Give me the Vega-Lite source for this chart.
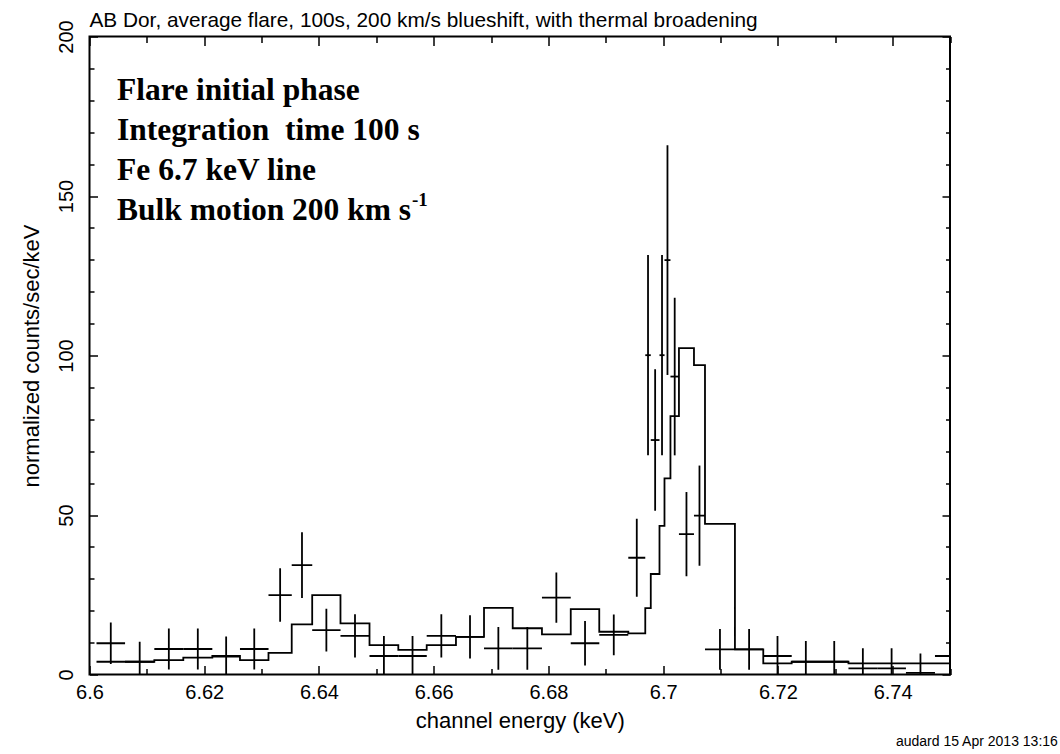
{
  "$schema": "https://vega.github.io/schema/vega-lite/v6.json",
  "width": 860.5,
  "height": 638,
  "autosize": "none",
  "padding": {"left": 89.5, "top": 36.5, "right": 110, "bottom": 79.5},
  "background": "white",
  "title": {
    "text": "AB Dor, average flare, 100s, 200 km/s blueshift, with thermal broadening",
    "anchor": "start",
    "frame": "group",
    "font": "Liberation Sans",
    "fontSize": 20.8,
    "fontWeight": "normal",
    "color": "#000",
    "baseline": "alphabetic",
    "offset": -28
  },
  "datasets": {
    "spectrum": [
      {"energy": 6.60371, "halfwidth": 0.00249, "rate": 9.8, "error": 6.5},
      {"energy": 6.60875, "halfwidth": 0.00256, "rate": 4.0, "error": 6.3},
      {"energy": 6.61383, "halfwidth": 0.00253, "rate": 8.0, "error": 6.4},
      {"energy": 6.61888, "halfwidth": 0.00253, "rate": 8.0, "error": 6.4},
      {"energy": 6.62382, "halfwidth": 0.00241, "rate": 5.6, "error": 6.3},
      {"energy": 6.62872, "halfwidth": 0.00249, "rate": 8.0, "error": 6.4},
      {"energy": 6.63323, "halfwidth": 0.00203, "rate": 24.9, "error": 8.4},
      {"energy": 6.63704, "halfwidth": 0.00179, "rate": 34.3, "error": 10.3},
      {"energy": 6.64129, "halfwidth": 0.00247, "rate": 13.9, "error": 6.7},
      {"energy": 6.64628, "halfwidth": 0.00253, "rate": 12.1, "error": 6.8},
      {"energy": 6.65132, "halfwidth": 0.00251, "rate": 5.8, "error": 6.3},
      {"energy": 6.65631, "halfwidth": 0.00248, "rate": 5.8, "error": 6.3},
      {"energy": 6.66133, "halfwidth": 0.00255, "rate": 12.1, "error": 6.8},
      {"energy": 6.66633, "halfwidth": 0.00245, "rate": 11.8, "error": 6.8},
      {"energy": 6.67127, "halfwidth": 0.0025, "rate": 8.2, "error": 6.7},
      {"energy": 6.67632, "halfwidth": 0.00255, "rate": 8.2, "error": 6.7},
      {"energy": 6.68138, "halfwidth": 0.00251, "rate": 24.1, "error": 7.9},
      {"energy": 6.68638, "halfwidth": 0.00249, "rate": 9.8, "error": 7.0},
      {"energy": 6.69139, "halfwidth": 0.00253, "rate": 12.4, "error": 6.4},
      {"energy": 6.6954, "halfwidth": 0.00148, "rate": 36.6, "error": 12.2},
      {"energy": 6.69736, "halfwidth": 0.00048, "rate": 100.1, "error": 31.4},
      {"energy": 6.6986, "halfwidth": 0.00076, "rate": 73.5, "error": 22.2},
      {"energy": 6.6998, "halfwidth": 0.00044, "rate": 100.1, "error": 31.4},
      {"energy": 6.70075, "halfwidth": 0.00052, "rate": 129.9, "error": 36.0},
      {"energy": 6.70201, "halfwidth": 0.00074, "rate": 93.4, "error": 24.7},
      {"energy": 6.70406, "halfwidth": 0.00131, "rate": 44.0, "error": 13.2},
      {"energy": 6.70633, "halfwidth": 0.00096, "rate": 49.8, "error": 15.7},
      {"energy": 6.7099, "halfwidth": 0.00261, "rate": 7.9, "error": 6.4},
      {"energy": 6.71498, "halfwidth": 0.00247, "rate": 7.9, "error": 6.4},
      {"energy": 6.71993, "halfwidth": 0.00248, "rate": 5.8, "error": 6.3},
      {"energy": 6.72487, "halfwidth": 0.00247, "rate": 4.0, "error": 6.5},
      {"energy": 6.72982, "halfwidth": 0.00249, "rate": 4.0, "error": 6.5},
      {"energy": 6.73481, "halfwidth": 0.00251, "rate": 1.9, "error": 6.3},
      {"energy": 6.73982, "halfwidth": 0.0025, "rate": 1.9, "error": 6.3},
      {"energy": 6.74485, "halfwidth": 0.00253, "rate": 0.5, "error": 6.1},
      {"energy": 6.75, "halfwidth": 0.00262, "rate": 5.8, "error": 6.6}
    ],
    "model": [
      {"energy": 6.60122, "model": 4.0},
      {"energy": 6.60619, "model": 4.0},
      {"energy": 6.6113, "model": 4.5},
      {"energy": 6.61635, "model": 5.3},
      {"energy": 6.62141, "model": 5.8},
      {"energy": 6.62623, "model": 4.5},
      {"energy": 6.6312, "model": 6.8},
      {"energy": 6.63525, "model": 15.7},
      {"energy": 6.63882, "model": 24.9},
      {"energy": 6.64375, "model": 16.0},
      {"energy": 6.64881, "model": 9.2},
      {"energy": 6.65383, "model": 7.7},
      {"energy": 6.65878, "model": 9.2},
      {"energy": 6.66388, "model": 11.8},
      {"energy": 6.66877, "model": 20.9},
      {"energy": 6.67377, "model": 14.5},
      {"energy": 6.67887, "model": 12.6},
      {"energy": 6.68389, "model": 20.5},
      {"energy": 6.68886, "model": 13.4},
      {"energy": 6.69392, "model": 12.9},
      {"energy": 6.69688, "model": 20.8},
      {"energy": 6.69784, "model": 31.5},
      {"energy": 6.69936, "model": 46.6},
      {"energy": 6.70023, "model": 61.5},
      {"energy": 6.70127, "model": 81.0},
      {"energy": 6.70275, "model": 102.3},
      {"energy": 6.70537, "model": 97.0},
      {"energy": 6.70729, "model": 47.2},
      {"energy": 6.71251, "model": 7.9},
      {"energy": 6.71745, "model": 3.5},
      {"energy": 6.7224, "model": 4.0},
      {"energy": 6.72733, "model": 4.0},
      {"energy": 6.7323, "model": 3.5},
      {"energy": 6.73732, "model": 3.5},
      {"energy": 6.74232, "model": 3.5},
      {"energy": 6.74738, "model": 3.5},
      {"energy": 6.75, "model": 3.5}
    ],
    "notes": [
      {"energy": 6.6048, "rate": 180.1, "text": "Flare initial phase"},
      {"energy": 6.6048, "rate": 167.6, "text": "Integration\u00a0 time 100 s"},
      {"energy": 6.6048, "rate": 155.0, "text": "Fe 6.7 keV line"},
      {"energy": 6.6048, "rate": 142.5, "text": "Bulk motion 200 km s"}
    ],
    "superscript": [
      {"energy": 6.6562, "rate": 147.0, "text": "-1"}
    ],
    "stamp": [
      {"energy": 6.7688, "rate": -21.2, "text": "audard 15 Apr 2013 13:16"}
    ]
  },
  "layer": [
    {
      "data": {"name": "model"},
      "mark": {"type": "line", "interpolate": "step-after", "color": "#000", "strokeWidth": 1.8, "clip": true},
      "encoding": {
        "x": {
          "field": "energy", "type": "quantitative",
          "scale": {"domain": [6.6, 6.75], "nice": false, "zero": false},
          "axis": {
            "orient": "bottom",
            "values": [6.6, 6.61, 6.62, 6.63, 6.64, 6.65, 6.66, 6.67, 6.68, 6.69, 6.7, 6.71, 6.72, 6.73, 6.74, 6.75],
            "format": "~g",
            "labelExpr": "round(datum.value * 100) % 2 == 0 ? datum.label : ''",
            "labelOverlap": false,
            "labelFlush": false,
            "tickSize": {"condition": {"test": "round(datum.value * 100) % 2 == 0", "value": -9}, "value": -6},
            "labelPadding": 17,
            "title": "channel energy (keV)",
            "titleFontSize": 22,
            "titlePadding": 5
          }
        },
        "y": {
          "field": "model", "type": "quantitative",
          "scale": {"domain": [0, 200], "nice": false, "zero": false},
          "axis": {
            "orient": "left",
            "values": [0, 10, 20, 30, 40, 50, 60, 70, 80, 90, 100, 110, 120, 130, 140, 150, 160, 170, 180, 190, 200],
            "labelExpr": "datum.value % 50 == 0 ? datum.label : ''",
            "labelAngle": 270,
            "labelAlign": "center",
            "labelBaseline": "bottom",
            "labelOverlap": false,
            "labelFlush": false,
            "tickSize": {"condition": {"test": "datum.value % 50 == 0", "value": -8}, "value": -4.5},
            "labelPadding": 21,
            "title": "normalized counts/sec/keV",
            "titleFontSize": 22,
            "titlePadding": 10
          }
        }
      }
    },
    {
      "data": {"name": "spectrum"},
      "mark": {"type": "errorbar", "color": "#000", "thickness": 1.8, "clip": true},
      "encoding": {
        "x": {"field": "energy", "type": "quantitative", "scale": {"domain": [6.6, 6.75], "nice": false, "zero": false}, "axis": null},
        "y": {"field": "rate", "type": "quantitative", "scale": {"domain": [0, 200], "nice": false, "zero": false}, "axis": null},
        "yError": {"field": "error"}
      }
    },
    {
      "data": {"name": "spectrum"},
      "mark": {"type": "errorbar", "color": "#000", "thickness": 1.8, "clip": true},
      "encoding": {
        "x": {"field": "energy", "type": "quantitative", "scale": {"domain": [6.6, 6.75], "nice": false, "zero": false}, "axis": null},
        "xError": {"field": "halfwidth"},
        "y": {"field": "rate", "type": "quantitative", "scale": {"domain": [0, 200], "nice": false, "zero": false}, "axis": null}
      }
    },
    {
      "data": {"name": "notes"},
      "mark": {"type": "text", "font": "Liberation Serif", "fontWeight": "bold", "fontSize": 31.5, "align": "left", "baseline": "alphabetic", "color": "#000"},
      "encoding": {
        "x": {
          "field": "energy", "type": "quantitative",
          "scale": {"domain": [6.6, 6.75], "nice": false, "zero": false},
          "axis": {
            "orient": "top",
            "values": [6.6, 6.61, 6.62, 6.63, 6.64, 6.65, 6.66, 6.67, 6.68, 6.69, 6.7, 6.71, 6.72, 6.73, 6.74, 6.75],
            "labels": false,
            "title": null,
            "tickSize": {"condition": {"test": "round(datum.value * 100) % 2 == 0", "value": -9}, "value": -6}
          }
        },
        "y": {
          "field": "rate", "type": "quantitative",
          "scale": {"domain": [0, 200], "nice": false, "zero": false},
          "axis": {
            "orient": "right",
            "values": [0, 10, 20, 30, 40, 50, 60, 70, 80, 90, 100, 110, 120, 130, 140, 150, 160, 170, 180, 190, 200],
            "labels": false,
            "title": null,
            "tickSize": {"condition": {"test": "datum.value % 50 == 0", "value": -8}, "value": -4.5}
          }
        },
        "text": {"field": "text"}
      }
    },
    {
      "data": {"name": "superscript"},
      "mark": {"type": "text", "font": "Liberation Serif", "fontWeight": "bold", "fontSize": 19, "align": "left", "baseline": "alphabetic", "color": "#000"},
      "encoding": {
        "x": {"field": "energy", "type": "quantitative", "scale": {"domain": [6.6, 6.75], "nice": false, "zero": false}, "axis": null},
        "y": {"field": "rate", "type": "quantitative", "scale": {"domain": [0, 200], "nice": false, "zero": false}, "axis": null},
        "text": {"field": "text"}
      }
    },
    {
      "data": {"name": "stamp"},
      "mark": {"type": "text", "font": "Liberation Sans", "fontSize": 14, "align": "right", "baseline": "middle", "color": "#000", "clip": false},
      "encoding": {
        "x": {"field": "energy", "type": "quantitative", "scale": {"domain": [6.6, 6.75], "nice": false, "zero": false}, "axis": null},
        "y": {"field": "rate", "type": "quantitative", "scale": {"domain": [0, 200], "nice": false, "zero": false}, "axis": null},
        "text": {"field": "text"}
      }
    }
  ],
  "resolve": {"axis": {"x": "independent", "y": "independent"}},
  "config": {
    "view": {"stroke": "#000", "strokeWidth": 2},
    "axis": {
      "domain": false,
      "grid": false,
      "labelFont": "Liberation Sans",
      "labelFontSize": 20,
      "labelColor": "#000",
      "titleFont": "Liberation Sans",
      "titleFontSize": 21,
      "titleFontWeight": "normal",
      "titleColor": "#000",
      "tickColor": "#000",
      "tickWidth": 1.5
    }
  }
}
